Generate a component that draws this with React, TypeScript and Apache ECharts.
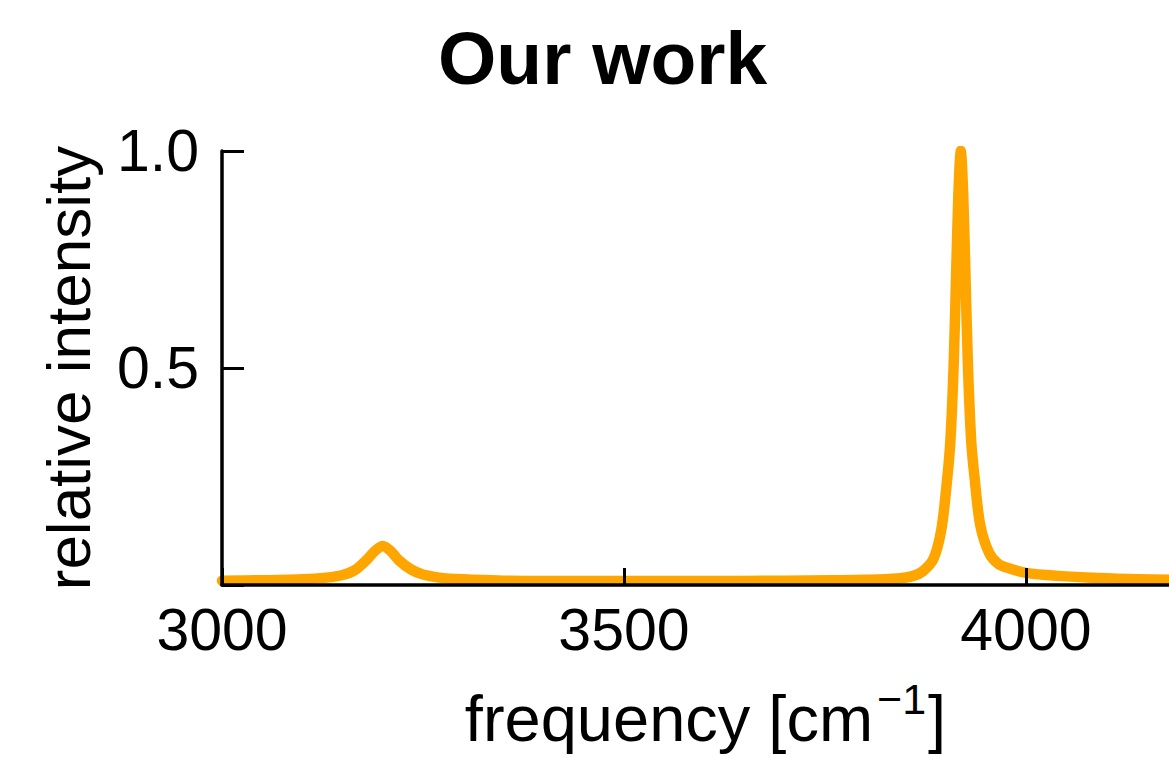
import React, { useEffect, useRef } from "react";
import * as echarts from "echarts";

// frequency [cm^-1] and relative intensity
const frequency = [
  3000, 3050, 3100, 3130, 3150, 3165, 3180, 3190, 3200, 3210, 3220, 3235, 3250, 3270, 3300, 3350,
  3400, 3500, 3600, 3700, 3760, 3800, 3840, 3860, 3872, 3885, 3895, 3902, 3906, 3910, 3913, 3916,
  3919, 3922, 3925, 3928, 3932, 3936, 3943, 3954, 3966, 3980, 4000, 4040, 4090, 4140, 4178,
];
const intensity = [
  0.010, 0.011, 0.013, 0.017, 0.023, 0.034, 0.058, 0.078, 0.090, 0.078, 0.057, 0.036, 0.024, 0.017, 0.013, 0.010,
  0.009, 0.009, 0.009, 0.010, 0.011, 0.012, 0.015, 0.021, 0.032, 0.060, 0.130, 0.243, 0.330, 0.500, 0.700, 0.900,
  1.000, 0.900, 0.700, 0.500, 0.330, 0.250, 0.140, 0.075, 0.048, 0.038, 0.028, 0.021, 0.016, 0.013, 0.012,
];
const xTicks = [3000, 3500, 4000];
const yTicks = [0.5, 1.0];

const FONT = "Liberation Sans";

export default function App() {
  const ref = useRef<HTMLDivElement>(null);
  useEffect(() => {
    if (!ref.current) return;
    const chart = echarts.init(ref.current, null, { renderer: "svg" });
    const data = frequency.map((f, i) => [f, intensity[i]]);
    chart.setOption({
      animation: false,
      backgroundColor: "#ffffff",
      title: {
        text: "Our work",
        left: 433,
        top: 15,
        textStyle: { fontFamily: FONT, fontSize: 75, fontWeight: "bold", color: "#000" },
      },
      grid: { left: 222, right: 0, top: 151, bottom: 172, containLabel: false },
      xAxis: {
        type: "value",
        min: 3000,
        max: 4178,
        interval: 500,
        z: 5,
        name: "{n|frequency [cm}{sup|−1}{n|]}",
        nameLocation: "middle",
        nameGap: 92,
        nameTextStyle: {
          fontFamily: FONT,
          color: "#000",
          padding: [0, 0, 0, 20],
          rich: {
            n: { fontFamily: FONT, fontSize: 65, lineHeight: 74, color: "#000", verticalAlign: "bottom" },
            sup: { fontFamily: FONT, fontSize: 43, lineHeight: 46, color: "#000", verticalAlign: "top", padding: [0, 2, 0, 4] },
          },
        },
        axisLine: { show: true, lineStyle: { color: "#000", width: 3.5 } },
        axisTick: { show: true, inside: true, length: 17, lineStyle: { color: "#000", width: 3 } },
        splitLine: { show: false },
        axisLabel: {
          fontFamily: FONT,
          fontSize: 59,
          color: "#000",
          margin: 15,
          showMaxLabel: false,
          formatter: (v: number) => (xTicks.includes(v) ? String(v) : ""),
        },
      },
      yAxis: {
        type: "value",
        min: 0,
        max: 1,
        interval: 0.5,
        z: 5,
        name: "relative intensity",
        nameLocation: "middle",
        nameGap: 123,
        nameTextStyle: { fontFamily: FONT, fontSize: 62, color: "#000" },
        axisLine: { show: true, lineStyle: { color: "#000", width: 3.5 } },
        axisTick: { show: true, inside: true, length: 22, lineStyle: { color: "#000", width: 3 } },
        splitLine: { show: false },
        axisLabel: {
          fontFamily: FONT,
          fontSize: 59,
          color: "#000",
          margin: 23,
          formatter: (v: number) => (yTicks.some((t) => Math.abs(t - v) < 1e-9) ? v.toFixed(1) : ""),
        },
      },
      series: [
        {
          type: "line",
          data,
          showSymbol: false,
          smooth: 0.3,
          lineStyle: { color: "#FFA500", width: 10.5, join: "round", cap: "round" },
          z: 2,
        },
      ],
    });
    return () => chart.dispose();
  }, []);
  return (
    <div
      ref={ref}
      style={{ position: "fixed", left: 0, top: 0, width: 1169, height: 757, background: "#fff" }}
    />
  );
}
